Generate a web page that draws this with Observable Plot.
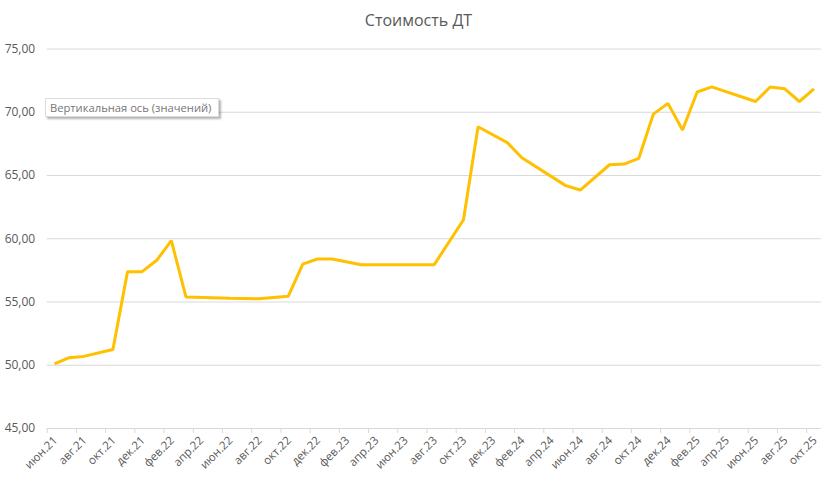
<!DOCTYPE html>
<html>
<head>
<meta charset="utf-8">
<script src="https://cdn.jsdelivr.net/npm/d3@7"></script>
<script src="https://cdn.jsdelivr.net/npm/@observablehq/plot@0.6"></script>
<style>
  html, body { margin: 0; padding: 0; background: #fff; }
  #wrap { position: relative; width: 837px; height: 478px; overflow: hidden; font-family: "Open Sans", sans-serif; }
  #title { position: absolute; left: 0; width: 837px; top: 9px; text-align: center; font-size: 16px; color: #595959; }
  #tip { position: absolute; left: 45px; top: 98px; width: 174px; height: 19px; box-sizing: border-box;
         background: #fff; border: 1px solid #dcdcdc; box-shadow: 2px 2px 2px rgba(0,0,0,0.3);
         font-size: 11.2px; line-height: 17px; color: #767676; padding-left: 4px; white-space: nowrap; }
  svg { position: absolute; left: 0; top: 0; }
</style>
</head>
<body>
<div id="wrap">
  <div id="chart"></div>
  <div id="title">Стоимость ДТ</div>
  <div id="tip">Вертикальная ось (значений)</div>
</div>
<script>
const months = ["2021-06","2021-07","2021-08","2021-10","2021-11","2021-12","2022-01","2022-02",
  "2022-03","2022-06","2022-08","2022-10","2022-11","2022-12","2023-01","2023-03",
  "2023-08","2023-10","2023-11","2024-01","2024-02","2024-05","2024-06","2024-08",
  "2024-09","2024-10","2024-11","2024-12","2025-01","2025-02","2025-03","2025-06",
  "2025-07","2025-08","2025-09","2025-10"];
const values = [50.1,50.6,50.7,51.25,57.4,57.4,58.3,59.85,
  55.4,55.3,55.25,55.45,58.0,58.4,58.4,57.95,
  57.95,61.5,68.85,67.6,66.4,64.2,63.85,65.85,
  65.9,66.35,69.85,70.7,68.6,71.6,72.0,70.85,
  72.0,71.85,70.85,71.85];
const tickLabels = ["июн.21","авг.21","окт.21","дек.21","фев.22","апр.22","июн.22","авг.22","окт.22",
  "дек.22","фев.23","апр.23","июн.23","авг.23","окт.23","дек.23","фев.24","апр.24","июн.24",
  "авг.24","окт.24","дек.24","фев.25","апр.25","июн.25","авг.25","окт.25"];
const yTicks = [45,50,55,60,65,70,75];

const startY = 2021, startM = 6;
const monthIndex = s => { const [y, m] = s.split("-").map(Number); return (y - startY) * 12 + (m - startM); };
const data = months.map((m, i) => ({i: monthIndex(m), v: values[i]}));
const nMonths = tickLabels.length * 2 - 1; // 53 slots
const labelPos = tickLabels.map((_, k) => 2 * k);
const boundaryPos = tickLabels.map((_, k) => 2 * k - 0.5);

const chart = Plot.plot({
  width: 837,
  height: 478,
  marginLeft: 46.7,
  marginRight: 16.2,
  marginTop: 48.5,
  marginBottom: 50,
  style: {fontFamily: "'Open Sans', sans-serif", background: "transparent"},
  x: {type: "linear", domain: [-0.5, nMonths - 0.5]},
  y: {domain: [45, 75]},
  marks: [
    Plot.ruleY(yTicks, {stroke: "#d9d9d9", strokeWidth: 1}),
    Plot.axisY({ticks: yTicks, tickSize: 0, tickPadding: 12, fontSize: 12, fill: "#595959",
      tickFormat: d => d.toFixed(2).replace(".", ","), label: null}),
    Plot.axisX({ticks: boundaryPos, tickSize: 5, stroke: "#d9d9d9", tickFormat: () => "", label: null}),
    Plot.axisX({ticks: labelPos, tickSize: 0, tickPadding: 10, tickRotate: -45, fontSize: 11.5,
      fill: "#595959", dx: 1, tickFormat: d => tickLabels[Math.round(d / 2)], label: null}),
    Plot.line(data, {x: "i", y: "v", stroke: "#ffc000", strokeWidth: 3, strokeLinejoin: "miter", strokeLinecap: "butt"})
  ]
});
document.getElementById("chart").appendChild(chart);
</script>
</body>
</html>
